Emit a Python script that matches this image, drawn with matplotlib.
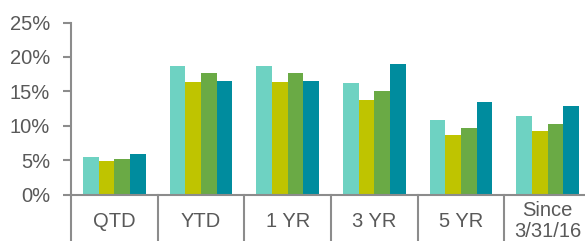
import matplotlib.pyplot as plt
import matplotlib.transforms as mtransforms
import numpy as np

plt.rcParams['font.family'] = ['Liberation Sans', 'DejaVu Sans']

# 数据
categories = ['QTD', 'YTD', '1 YR', '3 YR', '5 YR', 'Since\n3/31/16']
series_a = [5.4, 18.7, 18.7, 16.2, 10.8, 11.4]
series_b = [4.8, 16.4, 16.4, 13.8, 8.6, 9.2]
series_c = [5.1, 17.6, 17.6, 15.0, 9.7, 10.3]
series_d = [5.9, 16.5, 16.5, 19.0, 13.4, 12.8]
yticks = [0, 5, 10, 15, 20, 25]

colors = ['#6ED2C2', '#BFC400', '#6AAA45', '#008C9E']
axis_gray = '#8C8C8C'
text_gray = '#595959'

fig = plt.figure(figsize=(5.85, 2.41), dpi=100)
ax = fig.add_axes([71 / 585, 46.5 / 241, 520 / 585, 172 / 241])

x = np.arange(len(categories))
w = 0.18
for i, (vals, c) in enumerate(zip([series_a, series_b, series_c, series_d], colors)):
    ax.bar(x + (i - 1.5) * w, vals, width=w, color=c, linewidth=0)

ax.set_xlim(-0.5, len(categories) - 0.5)
ax.set_ylim(0, 25)
ax.set_yticks(yticks)
ax.set_yticklabels([f'{v}%' for v in yticks], fontsize=14.5, color=text_gray)
ax.tick_params(axis='y', length=6, width=1.5, color=axis_gray, pad=9)
ax.set_xticks([])

for s in ['top', 'right']:
    ax.spines[s].set_visible(False)
for s in ['left', 'bottom']:
    ax.spines[s].set_color(axis_gray)
    ax.spines[s].set_linewidth(1.5)

# 分类分隔线（延伸到图底部）
trans = mtransforms.blended_transform_factory(ax.transData, ax.transAxes)
for sx in np.arange(-0.5, len(categories), 1.0):
    ax.plot([sx, sx], [0, -0.3], transform=trans, color=axis_gray, lw=1.5, clip_on=False)

# 分类标签
for xi, lab in zip(x, categories):
    ax.text(xi, -0.155, lab, transform=trans, ha='center', va='center',
            fontsize=14.5, color=text_gray, linespacing=1.1)

fig.savefig('out.png', dpi=100)
